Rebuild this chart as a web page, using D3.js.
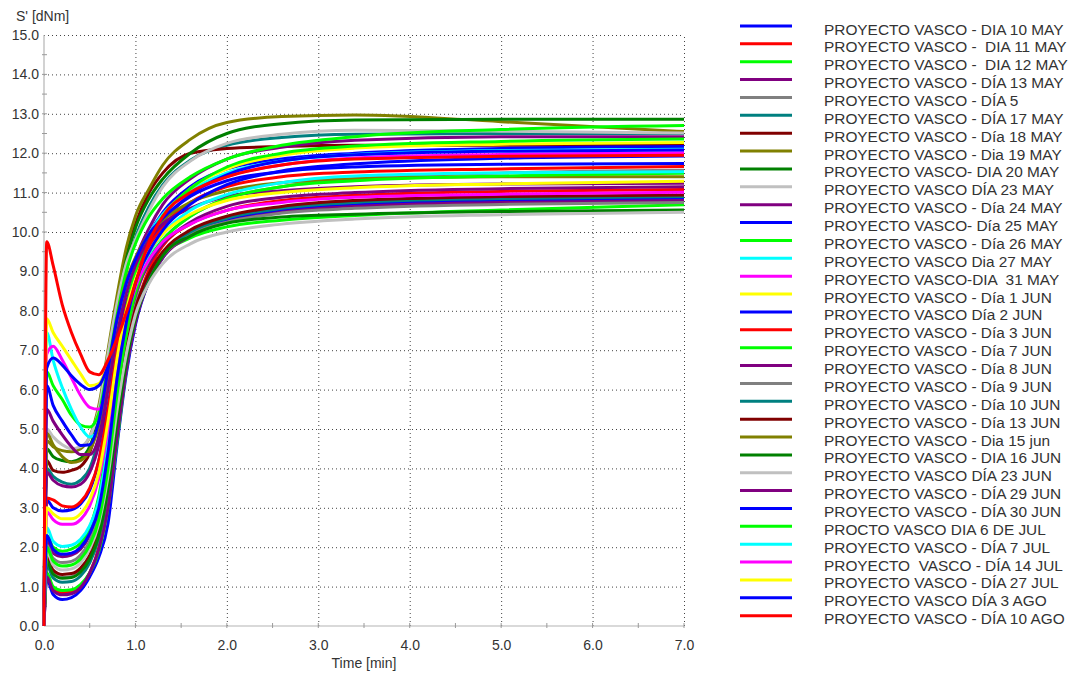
<!DOCTYPE html>
<html>
<head>
<meta charset="utf-8">
<script src="https://cdn.jsdelivr.net/npm/d3@7"></script>
<style>
  body { margin: 0; background: #fff; }
  svg text { font-family: "Liberation Sans", Arial, sans-serif; fill: #333; }
  .grid line { stroke: #444; stroke-dasharray: 1,3; }
  .grid .domain { display: none; }
  .axis-line { stroke: #b4b4b4; stroke-width: 1.2; }
  .minor-tick { stroke: #9a9a9a; stroke-width: 1; }
  .curve { fill: none; stroke-width: 3; stroke-linejoin: round; }
  .legend text { font-size: 15.4px; white-space: pre; }
</style>
</head>
<body>
<svg id="chart" width="1075" height="676"></svg>
<script>
// sample times [min], shared by every curve
const times = [0, 0.03, 0.1, 0.2, 0.3, 0.4, 0.5, 0.6, 0.7, 0.8, 0.9, 1.0, 1.15, 1.3, 1.6, 2.0, 2.6, 3.4, 5.0, 7.0];

// S' [dNm] for each test
const may10 = [0, 1.2, 0.8, 0.67, 0.72, 0.9, 1.25, 1.75, 2.6, 4.6, 6.4, 7.65, 8.75, 9.35, 9.95, 10.3, 10.55, 10.7, 10.8, 10.85];
const may11 = [0, 1.3, 0.95, 0.84, 0.87, 1.0, 1.35, 2.0, 3.3, 5.2, 6.9, 8.0, 9.05, 9.65, 10.2, 10.55, 10.8, 10.93, 11.03, 11.08];
const may12 = [0, 1.35, 1.0, 0.9, 0.92, 1.05, 1.35, 1.9, 3.0, 4.7, 6.5, 7.75, 8.8, 9.4, 9.85, 10.13, 10.3, 10.42, 10.56, 10.69];
const may13 = [0, 1.25, 0.9, 0.79, 0.82, 0.98, 1.35, 1.95, 3.0, 4.8, 6.5, 7.7, 8.75, 9.35, 9.9, 10.25, 10.5, 10.65, 10.75, 10.8];
const dia5  = [0, 1.7, 1.35, 1.23, 1.25, 1.4, 1.75, 2.4, 3.7, 5.6, 7.2, 8.3, 9.3, 9.8, 10.4, 10.85, 11.15, 11.35, 11.5, 11.57];
const may17 = [0, 4.0, 3.8, 3.65, 3.6, 3.7, 4.0, 4.8, 6.3, 7.8, 9.0, 9.85, 10.65, 11.2, 11.82, 12.2, 12.4, 12.48, 12.5, 12.5];
const may18 = [0, 4.2, 3.95, 3.9, 3.95, 4.05, 4.4, 5.3, 6.8, 8.2, 9.4, 10.2, 11.0, 11.5, 12.0, 12.12, 12.17, 12.2, 12.2, 12.2];
const may19 = [0, 4.7, 4.55, 4.45, 4.42, 4.5, 4.8, 5.6, 7.0, 8.4, 9.6, 10.4, 11.1, 11.7, 12.35, 12.78, 12.93, 12.97, 12.8, 12.55];
const may20 = [0, 4.5, 4.3, 4.2, 4.17, 4.25, 4.55, 5.3, 6.7, 8.1, 9.3, 10.1, 10.85, 11.35, 12.0, 12.5, 12.75, 12.84, 12.86, 12.86];
const may23 = [0, 5.0, 4.8, 4.6, 4.5, 4.55, 4.8, 5.5, 6.9, 8.2, 9.2, 9.8, 10.55, 11.15, 11.8, 12.25, 12.48, 12.58, 12.56, 12.51];
const may24 = [0, 3.9, 3.7, 3.56, 3.53, 3.6, 3.9, 4.6, 5.9, 7.4, 8.5, 9.3, 10.1, 10.7, 11.35, 11.85, 12.15, 12.33, 12.42, 12.42];
const may25 = [0, 3.2, 3.0, 2.92, 2.95, 3.1, 3.45, 4.2, 5.6, 7.2, 8.4, 9.2, 9.95, 10.5, 11.15, 11.6, 11.85, 12.0, 12.12, 12.17];
const may26 = [0, 6.45, 6.1, 5.75, 5.35, 5.1, 5.05, 5.4, 6.6, 7.9, 9.0, 9.7, 10.4, 10.85, 11.4, 11.85, 12.2, 12.42, 12.6, 12.7];
const may27 = [0, 7.45, 6.75, 6.05, 5.5, 5.05, 4.8, 5.0, 6.0, 7.4, 8.5, 9.2, 9.95, 10.45, 11.05, 11.5, 11.8, 11.97, 12.07, 12.1];
const may31 = [0, 6.9, 7.1, 6.75, 6.3, 5.85, 5.55, 5.5, 6.2, 7.3, 8.3, 9.05, 9.8, 10.3, 10.95, 11.4, 11.7, 11.88, 11.97, 12.01];
const jun1  = [0, 7.8, 7.45, 7.1, 6.75, 6.4, 6.1, 6.15, 6.7, 7.5, 8.3, 9.1, 9.85, 10.4, 11.1, 11.6, 11.95, 12.13, 12.23, 12.27];
const jun2  = [0, 6.55, 6.8, 6.62, 6.35, 6.13, 6.0, 6.1, 6.6, 7.4, 8.2, 8.95, 9.7, 10.25, 10.95, 11.45, 11.8, 11.96, 12.05, 12.08];
const jun3  = [0, 3.25, 3.2, 3.05, 3.02, 3.15, 3.5, 4.2, 5.5, 7.0, 8.1, 8.9, 9.65, 10.15, 10.75, 11.15, 11.4, 11.52, 11.6, 11.66];
const jun7  = [0, 2.3, 2.0, 1.9, 1.95, 2.1, 2.5, 3.3, 4.8, 6.6, 8.0, 9.0, 9.85, 10.4, 11.1, 11.65, 12.0, 12.18, 12.3, 12.36];
const jun8  = [0, 2.2, 1.85, 1.76, 1.8, 1.95, 2.3, 2.95, 4.2, 6.0, 7.4, 8.4, 9.2, 9.7, 10.25, 10.65, 10.88, 11.0, 11.1, 11.15];
const jun9  = [0, 2.05, 1.72, 1.61, 1.64, 1.8, 2.15, 2.8, 4.0, 5.7, 7.1, 8.1, 8.9, 9.4, 9.95, 10.25, 10.48, 10.6, 10.7, 10.75];
const jun10 = [0, 1.55, 1.22, 1.11, 1.13, 1.27, 1.6, 2.25, 3.5, 5.3, 6.85, 7.95, 8.9, 9.45, 10.0, 10.35, 10.6, 10.75, 10.85, 10.9];
const jun13 = [0, 1.75, 1.42, 1.31, 1.33, 1.47, 1.8, 2.45, 3.7, 5.5, 7.0, 8.05, 8.95, 9.5, 10.05, 10.4, 10.65, 10.8, 10.9, 10.94];
const jun15 = [0, 4.9, 4.6, 4.3, 4.15, 4.2, 4.45, 5.1, 6.4, 7.8, 8.75, 9.35, 9.95, 10.3, 10.75, 11.05, 11.25, 11.35, 11.4, 11.4];
const jun16 = [0, 1.65, 1.32, 1.21, 1.23, 1.37, 1.7, 2.3, 3.5, 5.2, 6.7, 7.8, 8.75, 9.4, 9.9, 10.22, 10.38, 10.45, 10.52, 10.56];
const jun23 = [0, 1.9, 1.55, 1.42, 1.45, 1.6, 1.95, 2.6, 3.8, 5.5, 6.9, 7.9, 8.7, 9.2, 9.7, 10.0, 10.2, 10.33, 10.44, 10.5];
const jun29 = [0, 5.5, 5.2, 4.85, 4.55, 4.35, 4.35, 4.8, 6.0, 7.4, 8.45, 9.15, 9.8, 10.2, 10.6, 10.9, 11.05, 11.15, 11.22, 11.24];
const jun30 = [0, 6.1, 5.6, 5.2, 4.85, 4.58, 4.6, 5.2, 6.5, 7.8, 8.7, 9.3, 9.95, 10.35, 10.9, 11.3, 11.53, 11.65, 11.72, 11.74];
const jul6  = [0, 2.0, 1.65, 1.52, 1.55, 1.7, 2.05, 2.7, 4.0, 5.9, 7.4, 8.45, 9.3, 9.8, 10.4, 10.85, 11.15, 11.3, 11.42, 11.49];
const jul7  = [0, 2.5, 2.15, 2.02, 2.05, 2.2, 2.55, 3.2, 4.6, 6.4, 7.8, 8.75, 9.45, 9.95, 10.55, 10.95, 11.25, 11.42, 11.5, 11.53];
const jul14 = [0, 2.9, 2.7, 2.58, 2.58, 2.7, 3.05, 3.75, 5.0, 6.6, 7.8, 8.6, 9.3, 9.75, 10.2, 10.55, 10.75, 10.88, 10.96, 11.01];
const jul27 = [0, 3.0, 2.85, 2.72, 2.72, 2.85, 3.2, 3.9, 5.2, 6.8, 8.0, 8.8, 9.5, 9.95, 10.45, 10.8, 11.0, 11.12, 11.22, 11.29];
const ago3  = [0, 2.3, 1.95, 1.82, 1.85, 2.0, 2.35, 3.0, 4.4, 6.3, 7.7, 8.7, 9.5, 10.05, 10.7, 11.2, 11.55, 11.73, 11.87, 11.93];
const ago10 = [0, 9.75, 9.15, 8.15, 7.45, 6.9, 6.45, 6.38, 6.75, 7.3, 7.95, 8.7, 9.75, 10.4, 11.0, 11.4, 11.7, 11.85, 11.92, 11.95];

const seriesValues = [may10, may11, may12, may13, dia5, may17, may18, may19, may20, may23, may24, may25,
  may26, may27, may31, jun1, jun2, jun3, jun7, jun8, jun9, jun10, jun13, jun15, jun16, jun23,
  jun29, jun30, jul6, jul7, jul14, jul27, ago3, ago10];

const labels = [
  "PROYECTO VASCO - DIA 10 MAY",
  "PROYECTO VASCO -  DIA 11 MAY",
  "PROYECTO VASCO -  DIA 12 MAY",
  "PROYECTO VASCO - DÍA 13 MAY",
  "PROYECTO VASCO - DÍA 5",
  "PROYECTO VASCO - DÍA 17 MAY",
  "PROYECTO VASCO - Día 18 MAY",
  "PROYECTO VASCO - Dia 19 MAY",
  "PROYECTO VASCO- DIA 20 MAY",
  "PROYECTO VASCO DÍA 23 MAY",
  "PROYECTO VASCO - Día 24 MAY",
  "PROYECTO VASCO- Día 25 MAY",
  "PROYECTO VASCO - Día 26 MAY",
  "PROYECTO VASCO Dia 27 MAY",
  "PROYECTO VASCO-DIA  31 MAY",
  "PROYECTO VASCO - Día 1 JUN",
  "PROYECTO VASCO Día 2 JUN",
  "PROYECTO VASCO - Día 3 JUN",
  "PROYECTO VASCO - Día 7 JUN",
  "PROYECTO VASCO - Día 8 JUN",
  "PROYECTO VASCO - Día 9 JUN",
  "PROYECTO VASCO - Día 10 JUN",
  "PROYECTO VASCO - Día 13 JUN",
  "PROYECTO VASCO - Dia 15 jun",
  "PROYECTO VASCO - DIA 16 JUN",
  "PROYECTO VASCO DÍA 23 JUN",
  "PROYECTO VASCO - DÍA 29 JUN",
  "PROYECTO VASCO - DÍA 30 JUN",
  "PROCTO VASCO DIA 6 DE JUL",
  "PROYECTO VASCO - DÍA 7 JUL",
  "PROYECTO  VASCO - DÍA 14 JUL",
  "PROYECTO VASCO - DÍA 27 JUL",
  "PROYECTO VASCO DÍA 3 AGO",
  "PROYECTO VASCO - DÍA 10 AGO"
];

const colors = [
  "#0000ff", "#ff0000", "#00ff00", "#800080", "#808080", "#008080", "#800000", "#808000", "#008000",
  "#c0c0c0", "#800080", "#0000ff", "#00ff00", "#00ffff", "#ff00ff", "#ffff00", "#0000ff", "#ff0000",
  "#00ff00", "#800080", "#808080", "#008080", "#800000", "#808000", "#008000", "#c0c0c0", "#800080",
  "#0000ff", "#00ff00", "#00ffff", "#ff00ff", "#ffff00", "#0000ff", "#ff0000"
];

const xTicks = d3.range(0, 7.01, 1);
const yTicks = d3.range(0, 15.01, 1);

const margin = {top: 35, right: 391, bottom: 50, left: 44};
const svg = d3.select('#chart');
const width = +svg.attr('width') - margin.left - margin.right;
const height = +svg.attr('height') - margin.top - margin.bottom;

const xScale = d3.scaleLinear().domain([0, 7]).range([0, width]);
const yScale = d3.scaleLinear().domain([0, 15]).range([height, 0]);

const chart = svg.append('g')
    .attr('transform', `translate(${margin.left},${margin.top})`);

// dotted grid
chart.append('g')
    .attr('class', 'grid')
    .call(d3.axisLeft(yScale).tickValues(yTicks.slice(1)).tickSize(-width).tickFormat(''));
chart.append('g')
    .attr('class', 'grid')
    .attr('transform', `translate(0,${height})`)
    .call(d3.axisBottom(xScale).tickValues(xTicks.slice(1)).tickSize(height).tickFormat(''))
    .selectAll('line').attr('y2', -height);

// axis lines with half-step ticks crossing them
chart.append('line').attr('class', 'axis-line')
    .attr('x1', 0).attr('x2', 0).attr('y1', 0).attr('y2', height);
chart.append('line').attr('class', 'axis-line')
    .attr('x1', 0).attr('x2', width).attr('y1', height).attr('y2', height);

chart.selectAll('.minor-y')
    .data(d3.range(0.5, 15, 0.5))
  .join('line')
    .attr('class', 'minor-tick')
    .attr('x1', -2).attr('x2', 3)
    .attr('y1', d => yScale(d)).attr('y2', d => yScale(d));
chart.selectAll('.minor-x')
    .data(d3.range(0.5, 7.01, 0.5))
  .join('line')
    .attr('class', 'minor-tick')
    .attr('x1', d => xScale(d)).attr('x2', d => xScale(d))
    .attr('y1', height - 3).attr('y2', height + 2);

// tick labels
const yAxisG = chart.append('g')
    .call(d3.axisLeft(yScale).tickValues(yTicks).tickSize(0).tickPadding(5).tickFormat(d3.format('.1f')));
yAxisG.select('.domain').remove();
yAxisG.selectAll('text').style('font-size', '14px');

const xAxisG = chart.append('g')
    .attr('transform', `translate(0,${height})`)
    .call(d3.axisBottom(xScale).tickValues(xTicks).tickSize(0).tickPadding(14).tickFormat(d3.format('.1f')));
xAxisG.select('.domain').remove();
xAxisG.selectAll('text').style('font-size', '14px');

// axis titles
svg.append('text')
    .attr('x', 16).attr('y', 21)
    .style('font-size', '14px')
    .text("S' [dNm]");
svg.append('text')
    .attr('x', margin.left + xScale(3.5)).attr('y', 668)
    .attr('text-anchor', 'middle')
    .style('font-size', '14px')
    .text('Time [min]');

// curves
const line = d3.line()
    .x((d, i) => xScale(times[i]))
    .y(d => yScale(d))
    .curve(d3.curveMonotoneX);

chart.selectAll('.curve')
    .data(seriesValues)
  .join('path')
    .attr('class', 'curve')
    .attr('stroke', (d, i) => colors[i])
    .attr('d', d => line(d));

// legend
const legendStep = 17.87;
const legend = svg.append('g')
    .attr('class', 'legend')
    .attr('transform', 'translate(740,26)');

const rows = legend.selectAll('g')
    .data(labels)
  .join('g')
    .attr('transform', (d, i) => `translate(0,${i * legendStep})`);

rows.append('line')
    .attr('x1', 0).attr('x2', 52)
    .attr('stroke', (d, i) => colors[i])
    .attr('stroke-width', 3);

rows.append('text')
    .attr('x', 84).attr('y', 8.5)
    .attr('xml:space', 'preserve')
    .text(d => d);
</script>
</body>
</html>
